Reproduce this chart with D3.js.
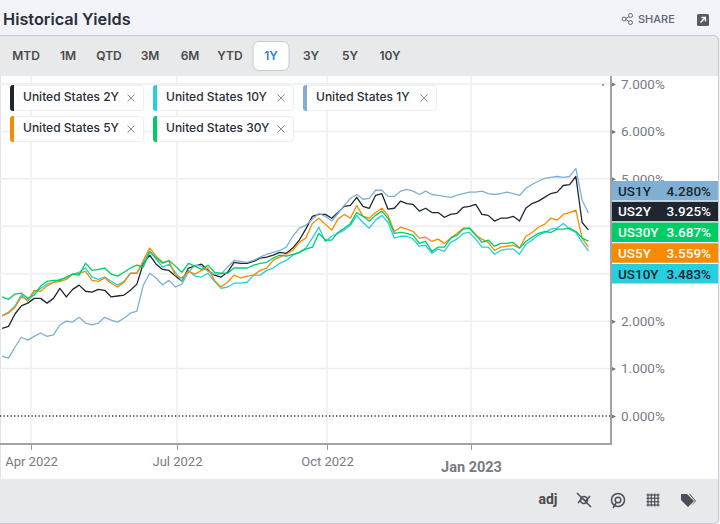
<!DOCTYPE html>
<html>
<head>
<meta charset="utf-8">
<script src="https://cdn.jsdelivr.net/npm/d3@7"></script>
<style>
  html, body { margin: 0; padding: 0; background: #f1f3f8; }
  svg { display: block; font-family: Inter, "Noto Sans", sans-serif; }
</style>
</head>
<body>
<div id="chart"></div>
<script>
// one sample every 4 days, first one 14 Mar 2022, last one 17 Mar 2023
const dates = d3.timeDay.range(new Date(2022, 2, 14), new Date(2023, 2, 18), 4);

const us1y = [1.26,1.22,1.45,1.66,1.60,1.68,1.75,1.68,1.71,1.92,2.00,1.98,2.08,1.96,1.92,1.96,2.08,2.02,1.98,2.06,
  2.17,2.21,2.76,3.01,2.91,2.76,2.86,2.72,2.78,3.03,3.18,3.16,3.05,2.99,2.99,3.14,3.28,3.26,
  3.24,3.28,3.35,3.41,3.45,3.49,3.56,3.79,3.96,4.02,4.15,4.27,4.21,4.11,4.27,4.44,4.59,4.67,
  4.57,4.59,4.76,4.76,4.63,4.63,4.74,4.78,4.74,4.67,4.74,4.67,4.65,4.63,4.61,4.65,4.69,4.72,4.72,4.74,
  4.69,4.67,4.69,4.72,4.69,4.65,4.80,4.88,4.95,5.01,5.03,5.05,5.03,5.05,5.22,4.55,4.28];
const us2y = [1.85,1.89,2.15,2.32,2.38,2.48,2.48,2.38,2.48,2.69,2.51,2.67,2.76,2.63,2.61,2.67,2.65,2.51,2.53,2.55,
  2.65,2.78,3.22,3.39,3.20,3.09,3.07,2.95,2.84,3.12,3.16,3.20,3.07,2.97,2.93,3.03,3.24,3.22,
  3.22,3.26,3.33,3.35,3.39,3.45,3.43,3.54,3.71,3.94,4.21,4.25,4.25,4.17,4.29,4.42,4.44,4.61,
  4.42,4.38,4.65,4.69,4.36,4.38,4.53,4.48,4.46,4.32,4.38,4.29,4.29,4.19,4.25,4.27,4.40,4.42,4.46,4.25,
  4.23,4.11,4.17,4.17,4.21,4.11,4.38,4.48,4.53,4.61,4.69,4.72,4.86,4.88,5.05,4.08,3.925];
const us5y = [2.11,2.17,2.29,2.51,2.44,2.65,2.63,2.74,2.82,2.84,2.88,2.99,3.01,3.05,2.86,2.84,2.91,2.80,2.72,2.82,
  3.01,3.01,3.28,3.54,3.37,3.24,3.26,2.97,2.91,3.05,2.99,3.07,3.12,2.86,2.72,2.82,2.97,2.91,
  2.95,2.97,3.07,3.12,3.28,3.35,3.41,3.49,3.66,3.75,4.06,4.17,4.04,3.92,4.15,4.25,4.17,4.44,
  4.21,4.17,4.29,4.38,4.23,3.89,3.98,3.94,3.89,3.75,3.77,3.68,3.73,3.64,3.75,3.85,3.96,3.96,3.81,3.73,
  3.66,3.49,3.56,3.58,3.60,3.54,3.79,3.87,3.98,4.04,4.17,4.13,4.25,4.29,4.34,3.75,3.559];
const us10y = [2.11,2.19,2.32,2.55,2.42,2.61,2.69,2.78,2.82,2.88,2.91,2.99,3.03,3.12,2.93,2.88,2.93,2.84,2.76,2.84,
  3.01,3.01,3.24,3.47,3.31,3.14,3.20,3.03,2.84,3.07,2.95,2.93,3.01,2.84,2.69,2.72,2.80,2.80,
  2.82,2.97,2.97,3.07,3.12,3.22,3.28,3.39,3.45,3.54,3.75,3.98,3.68,3.79,3.85,3.92,4.02,4.23,
  4.08,3.96,4.13,4.23,4.08,3.75,3.79,3.79,3.73,3.58,3.60,3.43,3.52,3.47,3.66,3.73,3.85,3.87,3.73,3.56,
  3.56,3.41,3.49,3.52,3.52,3.41,3.62,3.71,3.81,3.87,3.94,3.96,4.06,3.94,3.87,3.66,3.483];
const us30y = [2.51,2.46,2.57,2.59,2.48,2.55,2.74,2.84,2.86,2.86,2.93,2.99,2.97,3.22,3.07,3.09,3.12,2.99,2.95,3.03,
  3.12,3.18,3.14,3.47,3.33,3.22,3.28,3.16,3.03,3.22,3.16,3.09,3.18,3.03,3.01,3.01,3.12,3.12,
  3.12,3.18,3.22,3.24,3.33,3.39,3.37,3.41,3.45,3.52,3.56,3.85,3.71,3.71,3.87,3.96,4.06,4.29,
  4.21,4.11,4.23,4.32,4.17,3.85,3.87,3.85,3.81,3.64,3.68,3.47,3.56,3.56,3.75,3.81,3.94,3.96,3.83,3.66,
  3.71,3.58,3.64,3.64,3.66,3.54,3.68,3.77,3.85,3.89,3.87,3.94,3.94,3.96,3.89,3.75,3.687];

const seriesNames = ["United States 2Y", "United States 10Y", "United States 1Y", "United States 5Y", "United States 30Y"];
const seriesValues = [us2y, us10y, us1y, us5y, us30y];
const seriesColors = ["#1f2630", "#26cfe0", "#7fb0d3", "#f78b00", "#00cc66"];

const flagLabels = ["US1Y", "US2Y", "US30Y", "US5Y", "US10Y"];
const flagValues = [4.280, 3.925, 3.687, 3.559, 3.483];
const flagColors = ["#7fb0d3", "#1f2630", "#00cc66", "#f78b00", "#26cfe0"];
const flagText = ["#1f2630", "#ffffff", "#ffffff", "#ffffff", "#1f2630"];

const rangeButtons = ["MTD", "1M", "QTD", "3M", "6M", "YTD", "1Y", "3Y", "5Y", "10Y"];
const buttonCenters = [26, 68, 109, 150, 190, 230, 271, 311, 350, 390];

const yTicks = [0, 1, 2, 3, 4, 5, 6, 7];
// these two labels sit fully behind the value flags in the original
const yHiddenLabels = [3, 4];
const xTicks = [new Date(2022, 3, 1), new Date(2022, 6, 1), new Date(2022, 9, 1), new Date(2023, 0, 1)];

const width = 720;
const height = 524;
const axisX = 611;
const axisY = 444;

const svg = d3.select("#chart").append("svg")
    .attr("width", width)
    .attr("height", height);

// the quarters are not evenly spaced on the original axis, so the scale is piecewise
const x = d3.scaleTime().domain(xTicks).range([31, 177, 327, 471]);
const y = d3.scaleLinear().domain([0, 7]).range([416, 84]);

drawFrame();
drawGrid();
drawLines();
drawAxes();
drawFlags();
drawLegend();
drawToolbars();

function drawFrame() {
    svg.append("rect").attr("width", width).attr("height", height).attr("fill", "#f1f3f8");
    svg.append("text").attr("x", 3).attr("y", 25)
        .style("font-size", "16.3px").style("font-weight", "600").attr("fill", "#2a2e39")
        .text("Historical Yields");
    svg.append("path")
        .attr("d", "M0,36 H713 Q718.5,36 718.5,41 V518 Q718.5,523.5 713,523.5 H0 Z")
        .attr("fill", "#ffffff").attr("stroke", "#c5cad3");
}

function drawGrid() {
    svg.append("g").selectAll("line").data(yTicks.filter(d => d > 0)).join("line")
        .attr("x1", 0).attr("x2", axisX)
        .attr("y1", d => y(d)).attr("y2", d => y(d))
        .attr("stroke", "#eeeeee").attr("stroke-width", 1.5);
    svg.append("g").selectAll("line").data(xTicks).join("line")
        .attr("x1", d => x(d)).attr("x2", d => x(d))
        .attr("y1", 76).attr("y2", axisY)
        .attr("stroke", "#f2f2f2").attr("stroke-width", 2);
    svg.append("line")
        .attr("x1", 0).attr("x2", axisX).attr("y1", y(0)).attr("y2", y(0))
        .attr("stroke", "#333333").attr("stroke-width", 1.3).attr("stroke-dasharray", "1.3,2.2");
    svg.append("circle").attr("cx", 603).attr("cy", 85).attr("r", 0.8).attr("fill", "#333333");
}

function drawLines() {
    svg.append("clipPath").attr("id", "plot")
        .append("rect").attr("x", 0).attr("y", 76).attr("width", axisX).attr("height", axisY - 76);

    const line = d3.line()
        .x((d, i) => x(dates[i]))
        .y(d => y(d));

    svg.append("g").attr("clip-path", "url(#plot)")
        .selectAll("path").data(seriesValues).join("path")
        .attr("d", line)
        .attr("fill", "none")
        .attr("stroke", (d, i) => seriesColors[i])
        .attr("stroke-width", 1.3)
        .attr("stroke-linejoin", "round");
}

function drawAxes() {
    const yAxis = svg.append("g")
        .attr("transform", `translate(${axisX},0)`)
        .call(d3.axisRight(y).tickValues(yTicks).tickSize(0).tickPadding(10)
            .tickFormat(d => yHiddenLabels.includes(d) ? "" : d3.format(".3f")(d) + "%"));
    yAxis.select(".domain").remove();
    yAxis.selectAll("text")
        .attr("fill", "#777b85")
        .style("font-family", "Roboto, sans-serif")
        .style("font-size", "13.5px");
    yAxis.selectAll(".tick").append("path")
        .attr("d", "M1,-2 L5,0 L1,2 Z").attr("fill", "#777777");

    const xAxis = svg.append("g")
        .attr("transform", `translate(0,${axisY})`)
        .call(d3.axisBottom(x).tickValues(xTicks).tickSize(6).tickPadding(7)
            .tickFormat(d => d3.timeFormat("%b %Y")(d)));
    xAxis.select(".domain").remove();
    xAxis.selectAll("line").attr("stroke", "#999999");
    xAxis.selectAll("text")
        .attr("fill", "#777b85")
        .style("font-family", "Roboto, sans-serif")
        .style("font-size", "13px")
        .filter(d => d.getFullYear() === 2023)
        .attr("dy", "1.05em")
        .style("font-weight", "700")
        .style("font-size", "14.5px");

    svg.append("path")
        .attr("d", `M${axisX},76 V${axisY} H0`)
        .attr("fill", "none").attr("stroke", "#a3a3a3").attr("stroke-width", 2);
}

function drawFlags() {
    const flag = svg.append("g").selectAll("g").data(flagLabels).join("g")
        .attr("transform", (d, i) => `translate(612,${181 + i * 20.75})`);
    flag.append("rect")
        .attr("width", 106).attr("height", 19.5)
        .attr("fill", (d, i) => flagColors[i]);
    flag.append("text")
        .attr("x", 6).attr("y", 14.5)
        .attr("fill", (d, i) => flagText[i])
        .style("font-family", "Roboto, sans-serif")
        .style("font-size", "13.5px").style("font-weight", "500")
        .text(d => d);
    flag.append("text")
        .attr("x", 99).attr("y", 14.5)
        .attr("text-anchor", "end")
        .attr("fill", (d, i) => flagText[i])
        .style("font-family", "Roboto, sans-serif")
        .style("font-size", "13.5px").style("font-weight", "500")
        .text((d, i) => flagValues[i].toFixed(3) + "%");
}

function drawLegend() {
    const chipX = [10, 153, 303, 10, 153];
    const chipY = [85, 85, 85, 116, 116];
    const chipW = [133, 140, 133, 133, 140];

    const chip = svg.append("g").selectAll("g").data(seriesNames).join("g")
        .attr("transform", (d, i) => `translate(${chipX[i]},${chipY[i]})`);
    chip.append("rect")
        .attr("x", 0.5).attr("y", 0.5)
        .attr("width", (d, i) => chipW[i]).attr("height", 25).attr("rx", 3)
        .attr("fill", "#ffffff").attr("stroke", "#eeeeee");
    chip.append("path")
        .attr("d", "M4,0 H3 Q0,0 0,3 V23 Q0,26 3,26 H4 Z")
        .attr("fill", (d, i) => seriesColors[i]);
    chip.append("text")
        .attr("x", 13).attr("y", 16)
        .attr("fill", "#2a2e39")
        .style("font-size", "12px").style("font-weight", "500")
        .text(d => d);
    chip.append("path")
        .attr("d", (d, i) => {
            const cx = chipW[i] - 12;
            return `M${cx - 3.5},9.5 L${cx + 3.5},16.5 M${cx + 3.5},9.5 L${cx - 3.5},16.5`;
        })
        .attr("stroke", "#8a8f99").attr("stroke-width", 1).attr("fill", "none");
}

function drawToolbars() {
    svg.append("path")
        .attr("d", "M0,36 H713 Q718,36 718,41 V76 H0 Z")
        .attr("fill", "#e8e9eb").attr("stroke", "none");
    svg.append("path")
        .attr("d", "M0,479 H718 V518 Q718,523 713,523 H0 Z")
        .attr("fill", "#e8e9eb").attr("stroke", "none");
    svg.append("path")
        .attr("d", "M0,35.5 H713 Q718.5,35.5 718.5,41 V518 Q718.5,523.5 713,523.5 H0")
        .attr("fill", "none").attr("stroke", "#c5cad3");

    svg.append("rect")
        .attr("x", 253).attr("y", 41.5).attr("width", 36).attr("height", 29).attr("rx", 6)
        .attr("fill", "#ffffff").attr("stroke", "#c5cad3");
    svg.append("g").selectAll("text").data(rangeButtons).join("text")
        .attr("x", (d, i) => buttonCenters[i]).attr("y", 60)
        .attr("text-anchor", "middle")
        .attr("fill", d => d === "1Y" ? "#2f7fe8" : "#4a4a4a")
        .style("font-size", "12px").style("font-weight", "600")
        .text(d => d);

    // share + open icons, top right
    const share = svg.append("g").attr("transform", "translate(627,19)")
        .attr("fill", "none").attr("stroke", "#5f6570").attr("stroke-width", 1);
    share.append("path").attr("d", "M-2,0 L3,-3 M-2,0 L3,3");
    share.append("circle").attr("cx", -3).attr("cy", 0).attr("r", 2).attr("fill", "#f1f3f8");
    share.append("circle").attr("cx", 3.5).attr("cy", -3.5).attr("r", 2).attr("fill", "#f1f3f8");
    share.append("circle").attr("cx", 3.5).attr("cy", 3.5).attr("r", 2).attr("fill", "#f1f3f8");
    svg.append("text").attr("x", 638).attr("y", 23)
        .attr("fill", "#5f6570").style("font-size", "11px").style("font-weight", "500")
        .text("SHARE");
    svg.append("rect").attr("x", 697).attr("y", 14).attr("width", 12).attr("height", 12).attr("rx", 1.5)
        .attr("fill", "#555a66");
    svg.append("path").attr("d", "M700.5,22.5 L705.5,17.5 M701.5,17.5 H705.5 V21.5")
        .attr("fill", "none").attr("stroke", "#ffffff").attr("stroke-width", 1.3);

    // bottom bar
    svg.append("text").attr("x", 548).attr("y", 504).attr("text-anchor", "middle")
        .attr("fill", "#4a4a4a")
        .style("font-family", "Roboto, sans-serif").style("font-size", "14px").style("font-weight", "700")
        .text("adj");

    const iconStroke = "#4a4f59";
    const noLinks = svg.append("g").attr("transform", "translate(584,500)")
        .attr("fill", "none").attr("stroke", iconStroke).attr("stroke-width", 1.5);
    noLinks.append("path").attr("d", "M-7,-7 L7,7 M-6,3 L-2,-2 L2,1 L6,-4");
    noLinks.append("circle").attr("r", 3.5);

    const target = svg.append("g").attr("transform", "translate(618,500)")
        .attr("fill", "none").attr("stroke", iconStroke).attr("stroke-width", 1.5);
    target.append("circle").attr("r", 6.5);
    target.append("circle").attr("r", 2.8);
    target.append("path").attr("d", "M-2,3 L-5,8");

    const gridIcon = svg.append("g").attr("transform", "translate(653,500)")
        .attr("stroke", iconStroke).attr("stroke-width", 1.2);
    [-5, -1.7, 1.7, 5].forEach(d => {
        gridIcon.append("line").attr("x1", d).attr("x2", d).attr("y1", -6.5).attr("y2", 6.5);
        gridIcon.append("line").attr("y1", d).attr("y2", d).attr("x1", -6.5).attr("x2", 6.5);
    });

    svg.append("path").attr("transform", "translate(681,494)")
        .attr("d", "M0,0 H6 L13,7 L7,13 L0,6 Z M8,0 H9 L15,7 L10,12 L14,7 Z")
        .attr("fill", iconStroke);
}
</script>
</body>
</html>
